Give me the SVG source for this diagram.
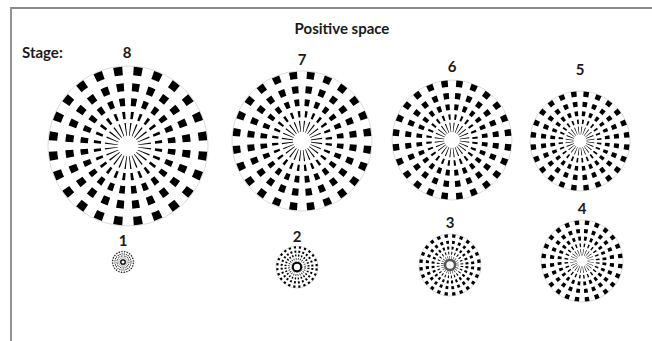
<svg xmlns="http://www.w3.org/2000/svg" xmlns:xlink="http://www.w3.org/1999/xlink" width="652" height="341" viewBox="0 0 652 341">
<style>
.lbl{font-family:Lato,"Liberation Sans",sans-serif;font-weight:bold;font-size:15px;fill:#1a1a1a;text-anchor:middle}
.ring{fill:none;stroke:#000}
.frame{fill:none;stroke:#8a8a8a;stroke-width:1.8}
</style>
<defs>
<g id="disc">
<circle r="100" fill="#fff" stroke="#dcdcdc" stroke-width="1" vector-effect="non-scaling-stroke"/>
<circle class="ring" r="94" stroke-width="10.5" pathLength="360" stroke-dasharray="6.5 8.5" stroke-dashoffset="-4.25"/>
<circle class="ring" r="73.5" stroke-width="10" pathLength="360" stroke-dasharray="7 8" stroke-dashoffset="-4"/>
<circle class="ring" r="55" stroke-width="9.5" pathLength="360" stroke-dasharray="7 8" stroke-dashoffset="-4"/>
<circle class="ring" r="38.5" stroke-width="9" pathLength="360" stroke-dasharray="5 10" stroke-dashoffset="-5"/>
<circle class="ring" r="21" stroke-width="16" pathLength="360" stroke-dasharray="3.5 11.5" stroke-dashoffset="-5.75"/>
</g>
</defs>
<path class="frame" d="M11,341 V8 H652"/>
<text class="lbl" x="342" y="34">Positive space</text>
<text class="lbl" x="22" y="58" style="text-anchor:start">Stage:</text>
<g id="stage8"><use xlink:href="#disc" transform="translate(128,146) scale(0.8)"/><text class="lbl" x="127" y="58">8</text></g>
<g id="stage7"><use xlink:href="#disc" transform="translate(302,141) scale(0.7)"/><text class="lbl" x="302" y="65">7</text></g>
<g id="stage6"><use xlink:href="#disc" transform="translate(452,140) scale(0.6)"/><text class="lbl" x="452" y="72">6</text></g>
<g id="stage5"><use xlink:href="#disc" transform="translate(580,141) scale(0.5)"/><text class="lbl" x="580" y="75">5</text></g>
<g id="stage1"><use xlink:href="#disc" transform="translate(123,262) scale(0.11)"/><circle cx="123" cy="262" r="2.2" fill="#fff" stroke="#000" stroke-width="1.3"/><text class="lbl" x="123" y="246">1</text></g>
<g id="stage2"><use xlink:href="#disc" transform="translate(297,267) scale(0.21)"/><circle cx="297" cy="267" r="4.2" fill="#fff" stroke="#000" stroke-width="2"/><text class="lbl" x="297" y="242">2</text></g>
<g id="stage3"><use xlink:href="#disc" transform="translate(450,265) scale(0.31)"/><circle cx="450" cy="265" r="5" fill="none" stroke="#555" stroke-width="2.5"/><text class="lbl" x="450" y="228">3</text></g>
<g id="stage4"><use xlink:href="#disc" transform="translate(582,261) scale(0.41)"/><text class="lbl" x="582" y="214">4</text></g>
</svg>
